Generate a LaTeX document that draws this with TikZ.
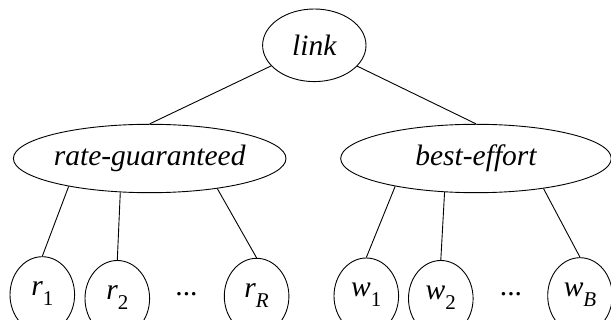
\documentclass[tikz,border=0pt]{standalone}
\usepackage{fontspec}
\setmainfont{Liberation Serif}
\usetikzlibrary{shapes.geometric}
\newcommand{\leafname}[2]{\makebox[0pt]{\raisebox{-1pt}[0pt][0pt]{\textit{#1}\raisebox{-10pt}{\fontsize{21pt}{24pt}\selectfont #2}}}}
\begin{document}
\begin{tikzpicture}[x=1pt,y=-1pt,line width=0.9pt,
  every node/.style={font=\fontsize{29.5pt}{34pt}\selectfont\itshape},
  oval/.style={draw,ellipse,inner sep=0pt},
  leaf/.style={draw,ellipse,inner sep=0pt,minimum width=64.6pt,minimum height=76pt},
  plain/.style={inner sep=0pt}]
\useasboundingbox (0,0) rectangle (611,320);
\node[oval,minimum width=103.4pt,minimum height=72.6pt] (link) at (314.3,45.3) {\makebox[0pt]{link}};
\node[oval,minimum width=272.6pt,minimum height=68.4pt] (rate) at (149.7,158.5) {\makebox[0pt]{rate-guaranteed}};
\node[oval,minimum width=270.6pt,minimum height=68.4pt] (best) at (476,158.5) {\makebox[0pt]{best-effort}};
\node[leaf] (r1) at (42.3,294.7) {\leafname{r}{\upshape 1}};
\node[leaf] (r2) at (117.3,298.5) {\leafname{r}{\upshape 2}};
\node[plain,anchor=base] (rdots) at (186.5,296) {\upshape ...};
\node[leaf] (rR) at (256.6,296.3) {\leafname{r}{R}};
\node[leaf] (w1) at (366.3,296) {\leafname{w}{\upshape 1}};
\node[leaf] (w2) at (440.8,298.5) {\leafname{w}{\upshape 2}};
\node[plain,anchor=base] (wdots) at (511,296) {\upshape ...};
\node[leaf] (wB) at (580,295.7) {\leafname{w}{B}};
\draw (link) -- (rate.north);
\draw (link) -- (best.north);
\draw (rate.199) -- (r1.north);
\draw (rate.229) -- (r2.north);
\draw (rate.336.5) -- (rR.north);
\draw (best.199) -- (w1.north);
\draw (best.227.6) -- (w2.north);
\draw (best.336) -- (wB.north);
\end{tikzpicture}
\end{document}
